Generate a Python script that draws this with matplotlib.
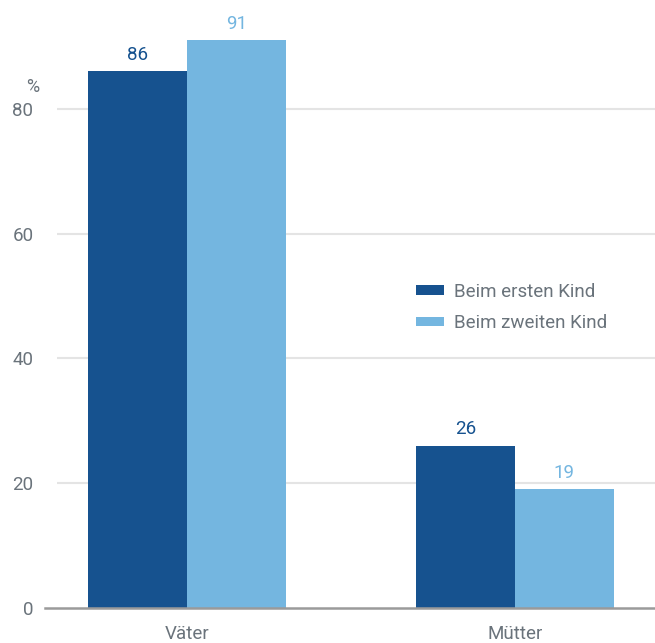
import matplotlib
matplotlib.use("Agg")
import matplotlib.pyplot as plt
import numpy as np

# Daten
categories = ["Väter", "Mütter"]
first_child = [86, 26]
second_child = [91, 19]
series_labels = ["Beim ersten Kind", "Beim zweiten Kind"]
y_ticks = [0, 20, 40, 60, 80]

dark_blue = "#16528f"
light_blue = "#74b6e0"
text_grey = "#6a737b"

plt.rcParams["font.family"] = ["Roboto", "DejaVu Sans"]

W, H = 655, 643
fig = plt.figure(figsize=(W / 100, H / 100), dpi=100)
# Achsenbereich in Pixeln: links 57, unten 35, oben 5
ax = fig.add_axes([57 / W, 35 / H, (W - 57) / W, (H - 40) / H])

x = np.arange(len(categories))
width = 0.302
b1 = ax.bar(x - width / 2, first_child, width, color=dark_blue, label=series_labels[0], zorder=2)
b2 = ax.bar(x + width / 2, second_child, width, color=light_blue, label=series_labels[1], zorder=2)

for bars, col in ((b1, dark_blue), (b2, light_blue)):
    for rect in bars:
        v = rect.get_height()
        ax.text(rect.get_x() + rect.get_width() / 2, v + 1.2, f"{v:g}",
                ha="center", va="bottom", color=col, fontsize=13.5)

ax.set_xlim(-0.395, 1.427)
ax.set_ylim(0, 603 / 6.24)
ax.set_yticks(y_ticks)
ax.set_yticklabels([str(t) for t in y_ticks])
ax.set_xticks(x)
ax.set_xticklabels(categories)
ax.tick_params(axis="both", length=0, labelsize=13.5, labelcolor=text_grey)
ax.tick_params(axis="y", pad=17)
ax.tick_params(axis="x", pad=12)

for t in y_ticks[1:]:
    ax.axhline(t, color="#e4e4e4", linewidth=1.5, zorder=1)
ax.axhline(0, xmin=-0.02, color="#9a9a9a", linewidth=1.8, zorder=3, clip_on=False)

for s in ax.spines.values():
    s.set_visible(False)

ax.text(-0.47, 82.0, "%", ha="center", va="bottom", color=text_grey, fontsize=13)

leg = ax.legend(loc="upper left", bbox_to_anchor=((417 - 57) / (W - 57) - 0.018, 0.555),
                frameon=False, fontsize=13.5, handlelength=1.5, handleheight=0.38,
                handletextpad=0.55, labelspacing=0.72, borderpad=0)
for txt in leg.get_texts():
    txt.set_color(text_grey)

fig.savefig("out.png", dpi=100)
